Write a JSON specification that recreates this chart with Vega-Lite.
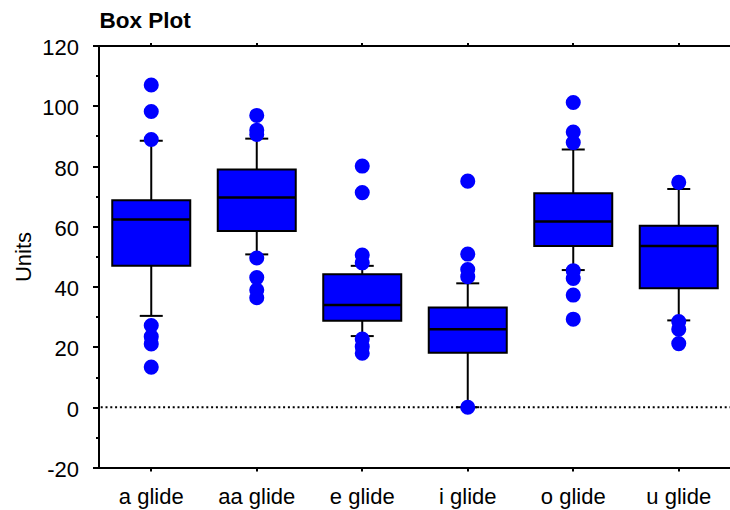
{
  "$schema": "https://vega.github.io/schema/vega-lite/v6.json",
  "width": 633,
  "height": 422,
  "autosize": {"type": "none"},
  "padding": {"left": 98.5, "top": 45.5, "right": 0, "bottom": 42.5},
  "title": {"text": "Box Plot", "anchor": "start", "frame": "group", "fontSize": 22.5, "fontWeight": "bold", "font": "Liberation Sans", "color": "black", "offset": 12, "baseline": "alphabetic", "dx": 1, "dy": 26},
  "datasets": {
    "boxes": [
      {"cat": "a glide", "lower": 30.3, "q1": 46.9, "median": 62.3, "q3": 68.7, "upper": 88.4},
      {"cat": "aa glide", "lower": 50.7, "q1": 58.5, "median": 69.6, "q3": 78.9, "upper": 89.1},
      {"cat": "e glide", "lower": 23.6, "q1": 28.7, "median": 33.9, "q3": 44.1, "upper": 46.9},
      {"cat": "i glide", "lower": 0, "q1": 18.1, "median": 25.9, "q3": 33.1, "upper": 41.1},
      {"cat": "o glide", "lower": 45.5, "q1": 53.5, "median": 61.6, "q3": 71.0, "upper": 85.5},
      {"cat": "u glide", "lower": 28.8, "q1": 39.5, "median": 53.5, "q3": 60.2, "upper": 72.4}
    ],
    "points": [
      {"cat": "a glide", "value": 106.9}, {"cat": "a glide", "value": 98.1}, {"cat": "a glide", "value": 88.8},
      {"cat": "a glide", "value": 27.1}, {"cat": "a glide", "value": 23.4}, {"cat": "a glide", "value": 21.0}, {"cat": "a glide", "value": 13.3},
      {"cat": "aa glide", "value": 96.8}, {"cat": "aa glide", "value": 91.9}, {"cat": "aa glide", "value": 90.5},
      {"cat": "aa glide", "value": 49.5}, {"cat": "aa glide", "value": 43.0}, {"cat": "aa glide", "value": 38.9}, {"cat": "aa glide", "value": 36.3},
      {"cat": "e glide", "value": 80.0}, {"cat": "e glide", "value": 71.2}, {"cat": "e glide", "value": 50.5}, {"cat": "e glide", "value": 47.9},
      {"cat": "e glide", "value": 22.6}, {"cat": "e glide", "value": 20.1}, {"cat": "e glide", "value": 17.9},
      {"cat": "i glide", "value": 75.0}, {"cat": "i glide", "value": 50.8}, {"cat": "i glide", "value": 45.7}, {"cat": "i glide", "value": 43.3}, {"cat": "i glide", "value": 0},
      {"cat": "o glide", "value": 101.1}, {"cat": "o glide", "value": 91.3}, {"cat": "o glide", "value": 87.8},
      {"cat": "o glide", "value": 45.3}, {"cat": "o glide", "value": 42.7}, {"cat": "o glide", "value": 37.2}, {"cat": "o glide", "value": 29.2},
      {"cat": "u glide", "value": 74.6}, {"cat": "u glide", "value": 28.4}, {"cat": "u glide", "value": 25.9}, {"cat": "u glide", "value": 21.1}
    ]
  },
  "resolve": {"axis": {"x": "independent", "y": "independent"}},
  "layer": [
    {
      "data": {"name": "boxes"},
      "mark": {"type": "rule", "color": "black", "strokeWidth": 2},
      "encoding": {
        "x": {"field": "cat", "type": "nominal", "sort": ["a glide", "aa glide", "e glide", "i glide", "o glide", "u glide"],
              "scale": {"domain": ["a glide", "aa glide", "e glide", "i glide", "o glide", "u glide"], "paddingInner": 0, "paddingOuter": 0},
              "axis": {"orient": "bottom", "title": null, "tickSize": 3.5, "labelPadding": 15, "labelAngle": 0}},
        "y": {"field": "lower", "type": "quantitative", "scale": {"domain": [-20, 120], "nice": false, "zero": false},
              "axis": {"orient": "left", "values": [-20, 0, 20, 40, 60, 80, 100, 120], "tickSize": 6, "labelPadding": 14, "labelOffset": 2,
                       "labelExpr": "'' + datum.value",
                       "title": "Units", "titleX": -68, "titleY": 211, "titleAngle": -90, "titleAlign": "center", "titleBaseline": "alphabetic"}},
        "y2": {"field": "q1"}
      }
    },
    {
      "data": {"name": "boxes"},
      "mark": {"type": "rule", "color": "black", "strokeWidth": 2},
      "encoding": {
        "x": {"field": "cat", "type": "nominal", "axis": {"orient": "top", "title": null, "labels": false, "tickSize": 3}},
        "y": {"field": "q3", "type": "quantitative",
              "axis": {"orient": "left", "values": [-10, 10, 30, 50, 70, 90, 110], "tickSize": 3, "labels": false, "domain": false, "title": null}},
        "y2": {"field": "upper"}
      }
    },
    {
      "data": {"values": [{"ref": 0}]},
      "mark": {"type": "rule", "color": "black", "strokeWidth": 2, "strokeDash": [2, 2.8]},
      "encoding": {
        "y": {"field": "ref", "type": "quantitative", "axis": null}
      }
    },
    {
      "data": {"name": "boxes"},
      "mark": {"type": "bar", "size": 78, "fill": "#0000ff", "stroke": "black", "strokeWidth": 2},
      "encoding": {
        "x": {"field": "cat", "type": "nominal", "axis": null},
        "y": {"field": "q1", "type": "quantitative", "axis": null},
        "y2": {"field": "q3"}
      }
    },
    {
      "data": {"name": "boxes"},
      "mark": {"type": "tick", "size": 78, "thickness": 2.5, "color": "black", "opacity": 1},
      "encoding": {
        "x": {"field": "cat", "type": "nominal", "axis": null},
        "y": {"field": "median", "type": "quantitative", "axis": null}
      }
    },
    {
      "data": {"name": "boxes"},
      "transform": [{"fold": ["lower", "upper"], "as": ["end", "cap"]}],
      "mark": {"type": "tick", "size": 23, "thickness": 2, "color": "black", "opacity": 1},
      "encoding": {
        "x": {"field": "cat", "type": "nominal", "axis": null},
        "y": {"field": "cap", "type": "quantitative", "axis": null}
      }
    },
    {
      "data": {"name": "points"},
      "mark": {"type": "circle", "size": 227, "color": "#0000ff", "opacity": 1},
      "encoding": {
        "x": {"field": "cat", "type": "nominal", "axis": null},
        "y": {"field": "value", "type": "quantitative", "axis": null}
      }
    }
  ],
  "config": {
    "view": {"stroke": null},
    "axis": {"domainColor": "black", "domainWidth": 2, "tickColor": "black", "tickWidth": 2, "labelColor": "black",
             "labelFont": "Liberation Sans", "labelFontSize": 22, "titleFont": "Liberation Sans", "titleFontSize": 22,
             "titleFontWeight": "normal", "titleColor": "black", "grid": false}
  }
}
